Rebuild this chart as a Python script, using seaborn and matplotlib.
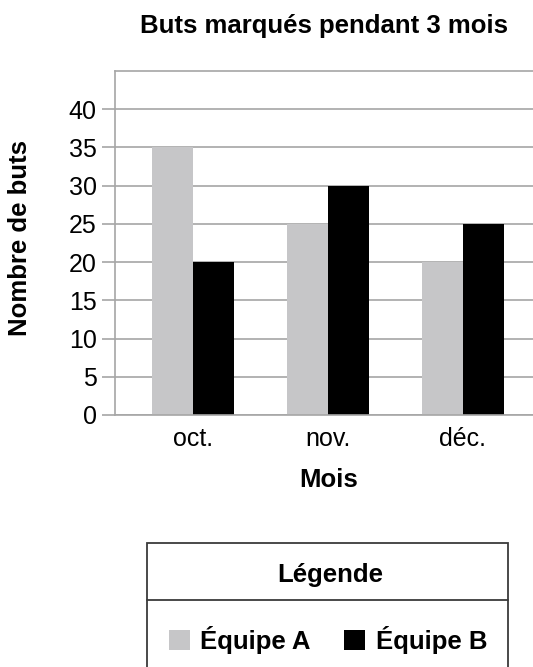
import matplotlib
matplotlib.use("Agg")
import matplotlib.pyplot as plt
from matplotlib.patches import Patch, Rectangle
from matplotlib.lines import Line2D
import seaborn as sns
import pandas as pd

# Data
mois = ["oct.", "nov.", "déc."]
equipes = ["Équipe A", "Équipe B"]
buts_a = [35, 25, 20]
buts_b = [20, 30, 25]
couleurs = ["#c6c6c8", "#000000"]
yticks = [0, 5, 10, 15, 20, 25, 30, 35, 40]

df = pd.DataFrame({
    "Mois": mois + mois,
    "Equipe": [equipes[0]] * 3 + [equipes[1]] * 3,
    "Buts": buts_a + buts_b,
})

sns.set_style("white")
plt.rcParams['font.family'] = ['Liberation Sans', 'DejaVu Sans']
plt.rcParams['text.color'] = 'black'
plt.rcParams['axes.labelcolor'] = 'black'

fig = plt.figure(figsize=(5.33, 6.67), dpi=100)
ax = fig.add_axes([115 / 533, 1 - 415 / 667, 418 / 533, 344 / 667])

sns.barplot(data=df, x="Mois", y="Buts", hue="Equipe", order=mois, hue_order=equipes,
            palette=couleurs, width=0.61, gap=0, saturation=1, legend=False, ax=ax,
            edgecolor="none", linewidth=0)

ax.set_xlim(-0.58, 2.52)
ax.set_ylim(0, 45)
ax.set_yticks(yticks)
ax.set_axisbelow(True)
ax.yaxis.grid(True, color="#a6a6a6", linewidth=1.2)
ax.xaxis.grid(False)

grey = "#a6a6a6"
for side in ["left", "bottom", "top"]:
    ax.spines[side].set_color(grey)
    ax.spines[side].set_linewidth(1.2)
ax.spines["right"].set_visible(False)

ax.tick_params(axis="y", length=9.5, width=1.2, color=grey, labelcolor="black",
               pad=3.6, labelsize=18, left=True)
ax.tick_params(axis="x", length=0, pad=9, labelsize=18, labelcolor="black")

ax.set_title("Buts marqués pendant 3 mois", fontsize=18.5, fontweight="bold", pad=27)
ax.set_ylabel("Nombre de buts", fontsize=18.5, fontweight="bold")
ax.set_xlabel("Mois", fontsize=18.5, fontweight="bold")
ax.yaxis.set_label_coords(-0.199, 0.515)
ax.xaxis.set_label_coords(0.51, -0.154)

# Legend box below the chart
fig.add_artist(Rectangle((147 / 533, -0.02), 361 / 533, 0.02 + 1 - 543 / 667,
                         transform=fig.transFigure, facecolor="none",
                         edgecolor="#3a3a3a", linewidth=1.3, clip_on=False))
fig.add_artist(Line2D([147 / 533, 508 / 533], [1 - 600 / 667, 1 - 600 / 667],
                      transform=fig.transFigure, color="#3a3a3a", linewidth=1.3))
fig.text(330 / 533, 1 - 582 / 667, "Légende", ha="center", va="baseline",
         fontsize=18.5, fontweight="bold")

handles = [Patch(facecolor=c, edgecolor="none") for c in couleurs]
fig.legend(handles, equipes, loc="center", bbox_to_anchor=(328 / 533, 1 - 640 / 667),
           ncol=2, frameon=False, handlelength=0.82, handleheight=0.82,
           handletextpad=0.4, columnspacing=1.3, borderpad=0, borderaxespad=0,
           prop={"weight": "bold", "size": 18.5})

fig.savefig("out.png", dpi=100)
